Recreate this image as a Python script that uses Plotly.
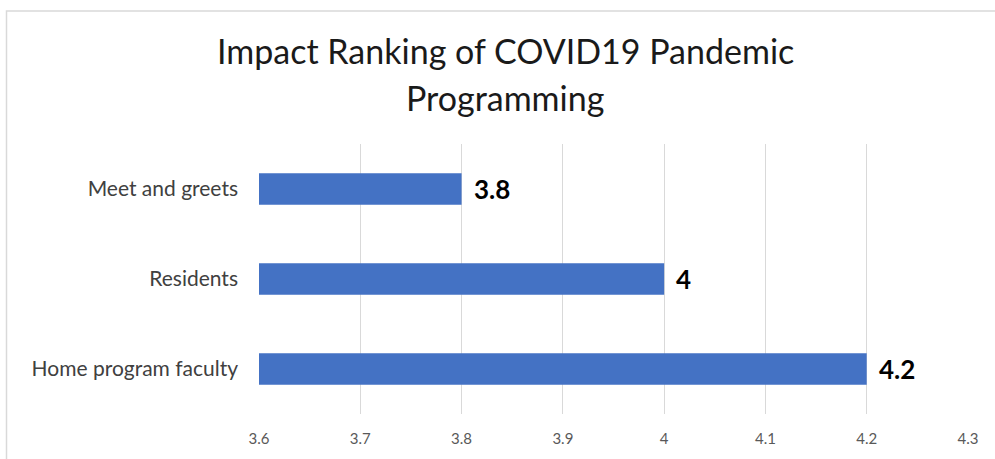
import plotly.graph_objects as go

# Program types and their mean impact ranking
categories = ["Meet and greets", "Residents", "Home program faculty"]
scores = [3.8, 4.0, 4.2]
score_labels = ["3.8", "4", "4.2"]
x_ticks = [3.6, 3.7, 3.8, 3.9, 4.0, 4.1, 4.2, 4.3]
x_tick_labels = ["3.6", "3.7", "3.8", "3.9", "4", "4.1", "4.2", "4.3"]

FONT = "Lato, 'Open Sans', sans-serif"

fig = go.Figure()
fig.add_trace(go.Bar(
    y=categories,
    x=scores,
    orientation="h",
    marker=dict(color="#4472C4", line=dict(width=0)),
    hoverinfo="x+y",
))

# Value labels just past the end of each bar
annotations = []
for cat, val, lab in zip(categories, scores, score_labels):
    annotations.append(dict(
        x=val, y=cat, xref="x", yref="y",
        text=f"<b>{lab}</b>", showarrow=False,
        xanchor="left", yanchor="middle", xshift=10,
        font=dict(family=FONT, size=26, color="#000000"),
    ))

# Two-line chart title
annotations.append(dict(
    x=505, y=50, xref="paper", yref="paper", text="Impact Ranking of COVID19 Pandemic",
    showarrow=False, font=dict(family=FONT, size=34, color="#1a1a1a"),
))
annotations.append(dict(
    x=505, y=97, xref="paper", yref="paper", text="Programming",
    showarrow=False, font=dict(family=FONT, size=34, color="#1a1a1a"),
))

# Convert pixel title positions to paper coordinates of the plot area
L, R, T, B = 259, 27, 144, 43
W, H = 995, 459
pw, ph = W - L - R, H - T - B
for a in annotations[-2:]:
    a["x"] = (a["x"] - L) / pw
    a["y"] = (H - B - a["y"]) / ph
    a["xanchor"] = "center"
    a["yanchor"] = "middle"

fig.update_layout(
    width=W, height=H,
    margin=dict(l=L, r=R, t=T, b=B),
    paper_bgcolor="white",
    plot_bgcolor="white",
    showlegend=False,
    bargap=0.65,
    annotations=annotations,
    shapes=[dict(
        type="rect", xref="paper", yref="paper",
        x0=(6.5 - L) / pw, x1=1.2, y0=-0.4, y1=(H - B - 10) / ph,
        line=dict(color="#d9d9d9", width=1.5), fillcolor="rgba(0,0,0,0)",
        layer="below",
    )],
    xaxis=dict(
        range=[3.6, 4.3],
        tickvals=x_ticks,
        ticktext=x_tick_labels,
        showgrid=True, gridcolor="#d9d9d9", gridwidth=1,
        zeroline=False, showline=False, ticks="",
        ticklabelstandoff=14,
        tickfont=dict(family=FONT, size=15, color="#595959"),
        fixedrange=True,
    ),
    yaxis=dict(
        categoryorder="array",
        categoryarray=categories[::-1],
        showgrid=False, zeroline=False, showline=False, ticks="",
        ticklabelstandoff=20,
        tickfont=dict(family=FONT, size=21, color="#404040"),
        fixedrange=True,
    ),
)

fig.write_html("out.html")
